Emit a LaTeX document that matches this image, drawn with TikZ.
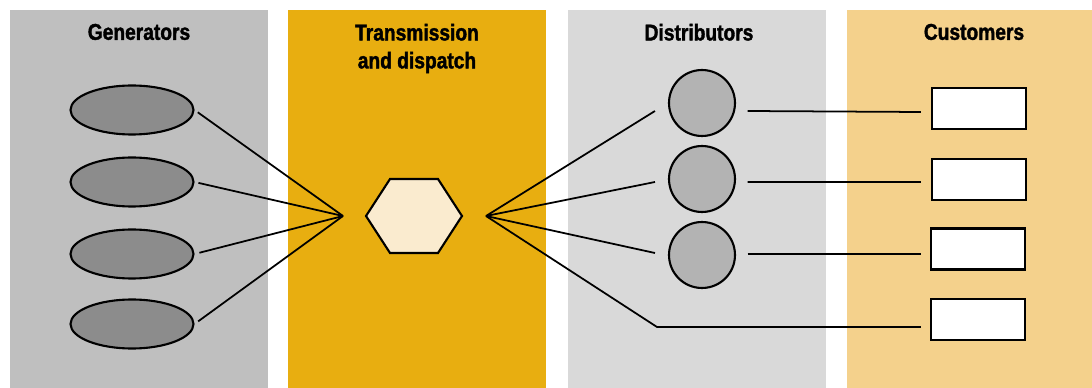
\documentclass[tikz,border=0pt]{standalone}
\usepackage{fontspec}
\usepackage{tikz}
\usetikzlibrary{shapes.geometric}
\newfontfamily\headfont{Liberation Sans}[FakeStretch=0.84, BoldFeatures={FakeBold=1.6}]

\definecolor{genbg}{HTML}{BFBFBF}
\definecolor{trbg}{HTML}{E8AE10}
\definecolor{disbg}{HTML}{D9D9D9}
\definecolor{cusbg}{HTML}{F4D18C}
\definecolor{genfill}{HTML}{8C8C8C}
\definecolor{disfill}{HTML}{B3B3B3}
\definecolor{hubfill}{HTML}{FAEBCF}

\tikzset{every edge/.style={draw, line width=1pt}}

\begin{document}
\begin{tikzpicture}[x=0.02cm, y=-0.02cm, line width=1pt,
    title/.style={font=\headfont\bfseries\fontsize{13}{15.9}\selectfont, align=center, inner sep=0pt, anchor=north},
    gen/.style={draw, ellipse, fill=genfill, line width=1.2pt, minimum width=2.46cm, minimum height=0.98cm, inner sep=0pt},
    dist/.style={draw, circle, fill=disfill, line width=1.2pt, minimum size=1.32cm, inner sep=0pt},
    cust/.style={draw, rectangle, fill=white, line width=1.2pt, minimum width=1.88cm, minimum height=0.82cm, inner sep=0pt},
    hub/.style={draw, regular polygon, regular polygon sides=6, fill=hubfill, line width=1.2pt, minimum size=1.92cm, inner sep=0pt}]
  \useasboundingbox (0,0) rectangle (1092,388);

  % columns
  \fill[genbg] (10,10) rectangle (268,388);
  \fill[trbg]  (288,10) rectangle (546,388);
  \fill[disbg] (568,10) rectangle (826,388);
  \fill[cusbg] (847,10) rectangle (1092,388);

  \node[title] at (139, 23) (tgen) {Generators};
  \node[title] at (417, 23) (ttr)  {Transmission\\and dispatch};
  \node[title] at (699, 23) (tdis) {Distributors};
  \node[title] at (974, 23) (tcus) {Customers};

  \node[gen] at (132, 110) (g1) {};
  \node[gen] at (132, 182) (g2) {};
  \node[gen] at (132, 254) (g3) {};
  \node[gen] at (132, 324) (g4) {};

  \begin{scope}[shift={(414, 216)}, yscale=0.89]
    \node[hub, transform shape] (hub) {};
  \end{scope}
  \coordinate (hin)  at (343, 216);
  \coordinate (hout) at (486, 216);

  \node[dist] at (702, 103) (d1) {};
  \node[dist] at (702, 179) (d2) {};
  \node[dist] at (702, 255) (d3) {};
  \coordinate (d4) at (657, 327);

  \node[cust] at (979, 108.5) (c1) {};
  \node[cust] at (979, 179.5) (c2) {};
  \node[cust] at (978, 249)   (c3) {};
  \node[cust] at (978, 319.5) (c4) {};

  \draw (g1.east) edge[shorten <=0.08cm] (hin);
  \draw (g2.east) edge[shorten <=0.08cm] (hin);
  \draw (g3.east) edge[shorten <=0.1cm]  (hin);
  \draw (g4.east) edge[shorten <=0.09cm] (hin);

  \draw (hout) edge ([shift={(-13,8)}]d1.west);
  \draw (hout) edge ([shift={(-13,3)}]d2.west);
  \draw (hout) edge ([shift={(-13,-2)}]d3.west);
  \draw (hout) -- (d4) -- ([shift={(-9,7.5)}]c4.west);

  \draw ([shift={(11.5,8)}]d1.east) edge ([shift={(-10,3.5)}]c1.west);
  \draw ([shift={(11.5,3)}]d2.east) edge ([shift={(-10,2.5)}]c2.west);
  \draw ([shift={(11.5,-1)}]d3.east) edge ([shift={(-9,5)}]c3.west);
\end{tikzpicture}
\end{document}
